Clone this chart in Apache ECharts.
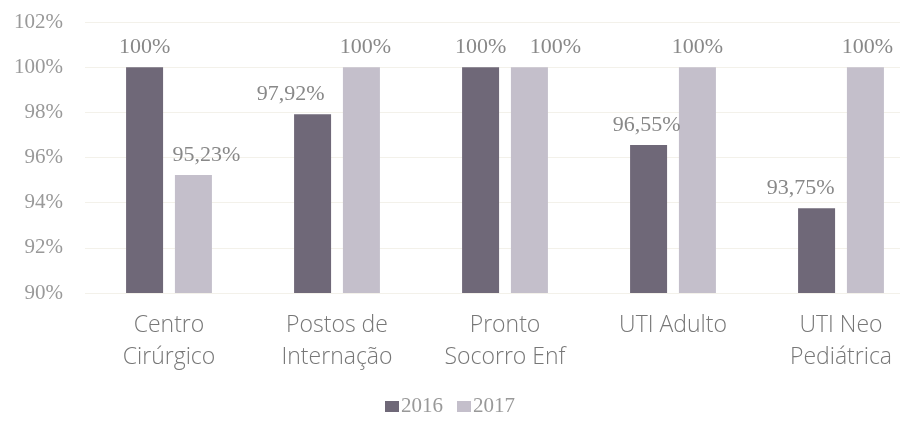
<!DOCTYPE html>
<html><head><meta charset="utf-8">
<script src="https://cdn.jsdelivr.net/npm/echarts@6/dist/echarts.min.js"></script>
<style>html,body{margin:0;padding:0;background:#fff}#c{width:900px;height:429px}</style>
</head><body><div id="c"></div>
<script>
const categories = ["Centro\nCirúrgico", "Postos de\nInternação", "Pronto\nSocorro Enf", "UTI Adulto", "UTI Neo\nPediátrica"];
const series2016 = [100, 97.92, 100, 96.55, 93.75];
const series2017 = [95.23, 100, 100, 100, 100];
const seriesNames = ["2016", "2017"];
const yMin = 90, yMax = 102, yStep = 2;
// label nudges (style only), in px
const labelShift2016 = [0, -22, 0, -2, -16];
const labelShift2017 = [13, 4, 26, 0, 2];

const fmt = v => (Number.isInteger(v) ? String(v) : v.toFixed(2).replace('.', ',')) + '%';
const withShift = (vals, shifts) => vals.map((v, i) => ({value: v, label: {offset: [shifts[i], 0]}}));
const chart = echarts.init(document.getElementById('c'));
const labelStyle = {show: true, position: 'top', distance: 9, color: '#888', fontFamily: 'Liberation Serif', fontSize: 22,
  formatter: p => fmt(p.value)};
chart.setOption({
  animation: false,
  grid: {left: 85, right: -25, top: 22, bottom: 136, outerBoundsMode: 'none'},
  legend: {bottom: 7, left: 'center', itemWidth: 14, itemHeight: 11, itemGap: 14, icon: 'rect',
    textStyle: {color: '#999', fontFamily: 'Liberation Serif', fontSize: 21, padding: [0, 0, 0, -3]}},
  xAxis: {type: 'category', data: categories, axisLine: {show: false}, axisTick: {show: false},
    axisLabel: {color: '#777', fontFamily: 'Open Sans', fontWeight: 300, fontSize: 23, lineHeight: 32, margin: 16}},
  yAxis: {type: 'value', min: yMin, max: yMax, interval: yStep,
    axisLabel: {formatter: v => v + '%', color: '#999', fontFamily: 'Liberation Serif', fontSize: 21, margin: 22},
    splitLine: {lineStyle: {color: '#f3f1ea'}}},
  series: [
    {name: seriesNames[0], type: 'bar', data: withShift(series2016, labelShift2016), barWidth: 37, barGap: '32%', itemStyle: {color: '#6f6878'}, label: labelStyle},
    {name: seriesNames[1], type: 'bar', data: withShift(series2017, labelShift2017), barWidth: 37, itemStyle: {color: '#c4bfcb'}, label: labelStyle}
  ]
});
</script></body></html>
